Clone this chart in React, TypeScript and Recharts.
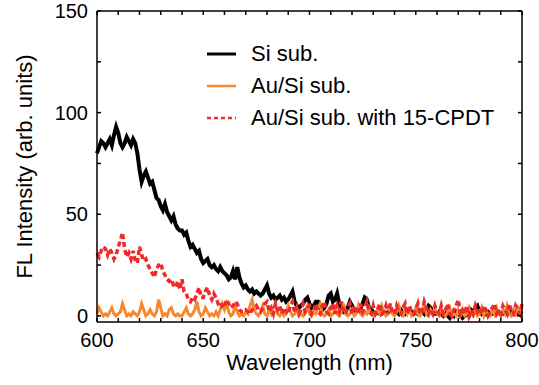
import React from "react";
import { LineChart, Line, XAxis, YAxis } from "recharts";

const wavelengthStart = 600;

const siSub = [
  80, 83, 86, 85, 83, 85, 87, 84, 89, 93,
  90, 85, 83, 85, 88, 86, 84, 87, 85, 80,
  72, 66, 69, 71, 68, 65, 66, 62, 58, 57,
  54, 52, 55, 51, 49, 47, 49, 45, 43, 42,
  42, 40, 41, 37, 34, 35, 33, 31, 32, 28,
  26, 27, 28, 25, 24, 25, 23, 22, 24, 22,
  21, 20, 18, 19, 22, 18, 24, 19, 16, 14,
  15, 13, 12, 13, 11, 12, 11, 10, 11, 13,
  15, 11, 9, 10, 8, 9, 10, 8, 9, 7,
  8, 10, 12, 7, 5, 4, 5, 6, 8, 9,
  6, 4, 5, 7, 7, 4, 3, 4, 6, 10,
  11, 7, 8, 11, 6, 3, 2, 3, 4, 7,
  5, 3, 2, 3, 4, 6, 9, 8, 4, 3,
  2, 1, 2, 1, 1, 2, 1, 2, 3, 2,
  1, 2, 1, 3, 2, 1, 2, 3, 2, 1,
  2, 1, 2, 2, 1, 3, 5, 4, 2, 1,
  1, 2, 1, 0, 1, 0, -1, 1, 0, 2,
  1, 0, -1, 0, 1, 0, 3, 2, 4, 5,
  2, 1, 2, 1, 2, 1, 1, 2, 1, 2,
  1, 1, 2, 1, 1, 2, 1, 2, 1, 2,
  1,
];

const auSiSub = [
  1, 4, 2, 0, 1, 0, 2, 4, 1, 0,
  1, 2, 6, 3, 0, 1, 0, 2, 1, 0,
  2, 6, 3, 0, 1, 3, 1, 0, 2, 8,
  4, 0, 1, 0, 3, 4, 1, 0, 1, 0,
  0, 2, 4, 1, 0, 1, 3, 7, 2, 0,
  1, 4, 2, 0, 1, 0, 2, 0, 3, 6,
  3, 6, 2, 0, 1, 5, 2, 0, 1, 0,
  2, 1, 5, 8, 3, 1, 0, 2, 5, 1,
  0, 3, 1, 4, 6, 1, 0, 2, 0, 1,
  5, 2, 0, 1, 4, 0, 1, 0, 3, 5,
  1, 0, 2, 1, 4, 6, 1, 0, 1, 3,
  0, 1, 4, 1, 0, 2, 6, 1, 0, 1,
  3, 0, 1, 5, 1, 0, 2, 1, 4, 1,
  0, 1, 3, 1, 5, 2, 0, 1, 4, 1,
  0, 2, 5, 1, 0, 4, 1, 3, 0, 1,
  4, 1, 0, 2, 6, 1, 0, 3, 1, 4,
  1, 0, 3, 1, 0, 2, 4, 0, 1, 0,
  3, 0, 2, 0, 1, 4, 1, 0, 3, 0,
  1, 4, 0, 3, 1, 0, 3, 1, 4, 1,
  0, 3, 1, 5, 1, 0, 3, 1, 4, 2,
  5,
];

const auSiCpdt = [
  31, 29, 32, 34, 33, 30, 33, 31, 28, 30,
  34, 37, 41, 33, 29, 31, 28, 32, 27, 26,
  34, 30, 27, 28, 25, 23, 21, 19, 23, 25,
  26, 22, 20, 18, 17, 18, 15, 14, 17, 13,
  18, 12, 11, 8, 7, 9, 8, 11, 14, 9,
  9, 12, 14, 10, 8, 11, 9, 6, 7, 4,
  5, 8, 6, 4, 5, 7, 6, 3, 2, 2,
  3, 2, 1, 3, 4, 5, 3, 2, 4, 6,
  7, 2, 4, 1, 6, 3, 5, 1, 4, 2,
  1, 5, 7, 2, 4, 1, 3, 6, 2, 4,
  5, 1, 3, 6, 2, 1, 5, 7, 2, 1,
  4, 6, 1, 5, 2, 7, 3, 1, 4, 6,
  1, 5, 3, 1, 6, 2, 4, 7, 2, 1,
  5, 1, 3, 6, 1, 2, 5, 1, 6, 2,
  1, 5, 2, 1, 4, 6, 1, 5, 2, 1,
  3, 6, 1, 2, 7, 4, 1, 3, 1, 5,
  2, 1, 5, 1, 3, 6, 1, 0, 3, 5,
  8, 1, 3, 1, 5, 0, 3, 1, 5, 2,
  4, 1, 5, 3, 0, 2, 4, 6, 1, 3,
  1, 5, 3, 1, 6, 2, 1, 5, 3, 1,
  6,
];

const xTicks = [600, 610, 620, 630, 640, 650, 660, 670, 680, 690, 700, 710, 720, 730, 740, 750, 760, 770, 780, 790, 800];
const xLabeled = [600, 650, 700, 750, 800];
const yTicks = [0, 25, 50, 75, 100, 125, 150];
const yLabeled = [0, 50, 100, 150];

const seriesNames = ["Si sub.", "Au/Si sub.", "Au/Si sub. with 15-CPDT"];
const seriesColors = ["#000000", "#f7882f", "#ee2a2a"];

const data = siSub.map((v, i) => ({
  wl: wavelengthStart + i,
  si: v,
  au: auSiSub[i],
  cpdt: auSiCpdt[i],
}));

const FONT = "'Liberation Sans', Arial, Helvetica, sans-serif";
const tickStyle = { fontSize: 20, fill: "#000", fontFamily: FONT };

export default function App() {
  return (
    <div style={{ position: "absolute", left: 0, top: 0, width: 539, height: 385, background: "#fff" }}>
      <LineChart
        width={539}
        height={385}
        data={data}
        margin={{ top: 6, right: 12, left: 0, bottom: 0 }}
      >
        <XAxis
          xAxisId="bottom"
          dataKey="wl"
          type="number"
          domain={[600, 800]}
          ticks={xTicks}
          interval={0}
          height={63}
          tickSize={-4}
          tickMargin={15}
          stroke="#000"
          strokeWidth={1.5}
          tick={tickStyle}
          tickFormatter={(v: number) => (xLabeled.includes(v) ? String(v) : "")}
          label={{ value: "Wavelength (nm)", position: "insideBottom", offset: 15, style: { fontSize: 22, fill: "#000", fontFamily: FONT } }}
        />
        <XAxis
          xAxisId="top"
          dataKey="wl"
          type="number"
          orientation="top"
          domain={[600, 800]}
          ticks={xTicks}
          interval={0}
          height={5}
          tickSize={-4}
          tickMargin={0}
          stroke="#000"
          strokeWidth={1.5}
          tick={tickStyle}
          tickFormatter={() => ""}
        />
        <YAxis
          yAxisId="left"
          type="number"
          domain={[-3, 150]}
          allowDataOverflow
          ticks={yTicks}
          interval={0}
          width={97}
          tickSize={-4}
          tickMargin={13}
          stroke="#000"
          strokeWidth={1.5}
          tick={tickStyle}
          tickFormatter={(v: number) => (yLabeled.includes(v) ? String(v) : "")}
          label={{ value: "FL Intensity (arb. units)", angle: -90, position: "insideLeft", offset: 24, style: { textAnchor: "middle", fontSize: 22, fill: "#000", fontFamily: FONT } }}
        />
        <YAxis
          yAxisId="right"
          orientation="right"
          type="number"
          domain={[-3, 150]}
          allowDataOverflow
          ticks={yTicks}
          interval={0}
          width={5}
          tickSize={-4}
          tickMargin={0}
          stroke="#000"
          strokeWidth={1.5}
          tick={tickStyle}
          tickFormatter={() => ""}
        />
        <Line
          xAxisId="bottom"
          yAxisId="left"
          type="linear"
          dataKey="si"
          name={seriesNames[0]}
          stroke={seriesColors[0]}
          strokeWidth={4}
          dot={false}
          isAnimationActive={false}
        />
        <Line
          xAxisId="bottom"
          yAxisId="left"
          type="linear"
          dataKey="au"
          name={seriesNames[1]}
          stroke={seriesColors[1]}
          strokeWidth={3}
          dot={false}
          isAnimationActive={false}
        />
        <Line
          xAxisId="bottom"
          yAxisId="left"
          type="linear"
          dataKey="cpdt"
          name={seriesNames[2]}
          stroke={seriesColors[2]}
          strokeWidth={3.5}
          strokeDasharray="5 3"
          dot={false}
          isAnimationActive={false}
        />
      </LineChart>
      <div style={{ position: "absolute", left: 205, top: 38, fontFamily: FONT, fontSize: 22, color: "#000" }}>
        {seriesNames.map((name, i) => (
          <div key={name} style={{ display: "flex", alignItems: "center", height: 32 }}>
            <svg width={32} height={10} style={{ marginRight: 14 }}>
              <line
                x1={2}
                y1={5}
                x2={31}
                y2={5}
                stroke={seriesColors[i]}
                strokeWidth={i === 0 ? 3 : 2.5}
                strokeDasharray={i === 2 ? "4 3" : undefined}
              />
            </svg>
            <span style={{ whiteSpace: "nowrap" }}>{name}</span>
          </div>
        ))}
      </div>
    </div>
  );
}
